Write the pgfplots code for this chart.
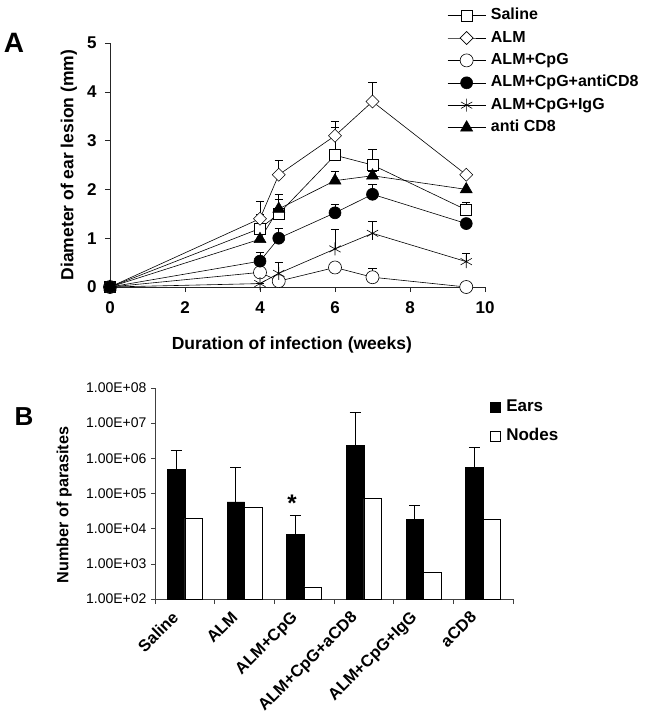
\documentclass[border=0pt]{standalone}
\usepackage{fontspec}
\setmainfont{Liberation Sans}
\usepackage{pgfplots}
\pgfplotsset{compat=1.18}
\usepackage{pgfplotstable}

\pgfplotstableread{
x y e
0 0 0
4 1.2 0.3
4.5 1.5 0.3
6 2.7 0.57
7 2.5 0.32
9.5 1.58 0.15
}\saline
\pgfplotstableread{
x y e
0 0 0
4 1.4 0.35
4.5 2.3 0.3
6 3.1 0.3
7 3.8 0.4
9.5 2.3 0
}\alm
\pgfplotstableread{
x y e
0 0 0
4 0.3 0.1
4.5 0.12 0
6 0.4 0
7 0.2 0.18
9.5 0.0 0
}\almcpg
\pgfplotstableread{
x y e
0 0 0
4 0.53 0.18
4.5 1.0 0.2
6 1.52 0.17
7 1.9 0.2
9.5 1.3 0
}\almcpgcd
\pgfplotstableread{
x y e
0 0 0
4 0.07 0
4.5 0.28 0.22
6 0.78 0.4
7 1.1 0.25
9.5 0.52 0.18
}\almcpgigg
\pgfplotstableread{
x y e
0 0 0
4 0.98 0.2
4.5 1.6 0.3
6 2.18 0.2
7 2.28 0.1
9.5 2.0 0
}\anticd
\pgfplotstableread{
x ears err nodes
0.5 4.9e5 1.21e6 2.0e4
1.5 5.8e4 5.0e5 4.2e4
2.5 7.0e3 1.65e4 2.2e2
3.5 2.35e6 1.8e7 7.2e4
4.5 1.8e4 2.7e4 5.8e2
5.5 5.6e5 1.44e6 1.8e4
}\parasites

\pgfplotsset{
  serA/.style={black, line width=0.6pt, mark options={solid, line width=0.6pt},
    error bars/y dir=plus, error bars/y explicit,
    error bars/error mark=-,
    error bars/error bar style={line width=0.6pt, black},
    error bars/error mark options={rotate=90, mark size=4.2pt, line width=0.6pt, black}},
}

\begin{document}
\begin{tikzpicture}
\path[use as bounding box] (0pt,0pt) rectangle (645pt,-720pt);
\node[font=\fontsize{28}{30}\selectfont\bfseries] at (14pt,-43pt) {A};
\node[font=\fontsize{26}{30}\selectfont\bfseries] at (24pt,-417pt) {B};

\begin{axis}[
  at={(110pt,-287pt)}, anchor=south west,
  scale only axis, width=375pt, height=244pt,
  xmin=0, xmax=10, ymin=0, ymax=5,
  axis lines*=left,
  axis line style={black!85, line width=0.6pt},
  tick align=outside, major tick length=5pt,
  tick style={black!85, line width=0.6pt},
  xtick={0,2,...,10}, ytick={0,1,...,5},
  /pgf/number format/assume math mode=true,
  ticklabel style={font=\fontsize{17}{20}\selectfont\bfseries},
  xticklabel style={yshift=-6pt},
  yticklabel style={xshift=-5pt},
  xlabel={Duration of infection (weeks)},
  ylabel={Diameter of ear lesion (mm)},
  label style={font=\fontsize{17.5}{20}\selectfont\bfseries},
  xlabel style={at={(axis description cs:0.485,-0.238)}, anchor=center},
  ylabel style={at={(axis description cs:-0.11,0.5)}, anchor=center},
  clip=false,
  legend cell align=left,
  legend style={at={(axis description cs:0.899,1.15)}, anchor=north west,
    draw=none, fill=none, inner sep=0pt, row sep=4.4pt,
    font=\fontsize{16}{19}\selectfont\bfseries,
    nodes={text height=11.5pt, text depth=3.5pt, inner sep=1.5pt},
    /tikz/every odd column/.append style={column sep=3.5pt}},
  legend image code/.code={\draw[mark repeat=2, mark phase=2, #1] plot coordinates {(0pt,0pt) (19pt,0pt) (38pt,0pt)};},
]
\addplot[serA, mark=square*, mark size=5.5pt, mark options={fill=white}] table[x=x, y=y, y error=e] {\saline};
\addlegendentry{Saline}
\addplot[serA, mark=square*, mark size=4.6pt, mark options={fill=white, rotate=45}] table[x=x, y=y, y error=e] {\alm};
\addlegendentry{ALM}
\addplot[serA, mark=*, mark size=6.5pt, mark options={fill=white}] table[x=x, y=y, y error=e] {\almcpg};
\addlegendentry{ALM+CpG}
\addplot[serA, mark=*, mark size=6pt, mark options={fill=black}] table[x=x, y=y, y error=e] {\almcpgcd};
\addlegendentry{ALM+CpG+antiCD8}
\addplot[serA, mark=asterisk, mark size=6.5pt] table[x=x, y=y, y error=e] {\almcpgigg};
\addlegendentry{ALM+CpG+IgG}
\addplot[serA, mark=triangle*, mark size=6.9pt, mark options={fill=black}] table[x=x, y=y, y error=e] {\anticd};
\addlegendentry{anti CD8}
\end{axis}

\begin{axis}[
  at={(155pt,-599pt)}, anchor=south west,
  scale only axis, width=358pt, height=211pt,
  xmin=0, xmax=6, ymode=log, ymin=100, ymax=1e8, log origin=infty,
  ybar=0pt, bar width=17.5pt,
  axis lines*=left,
  axis line style={black!75, line width=0.6pt},
  tick align=outside,
  tick style={black!75, line width=0.6pt},
  xtick={0.5,1.5,...,5.5},
  xticklabels={Saline,ALM,ALM+CpG,ALM+CpG+aCD8,ALM+CpG+IgG,aCD8},
  major x tick style={draw=none},
  minor xtick={0,1,...,6}, minor tick length=5pt,
  ytick={1e2,1e3,1e4,1e5,1e6,1e7,1e8},
  yticklabels={1.00E+02,1.00E+03,1.00E+04,1.00E+05,1.00E+06,1.00E+07,1.00E+08},
  major tick length=4pt,
  yminorticks=false,
  /pgf/number format/assume math mode=true,
  yticklabel style={font=\fontsize{14}{16}\selectfont, xshift=-1pt},
  xticklabel style={font=\fontsize{16.5}{18}\selectfont\bfseries, xshift=-14pt, yshift=-7pt, rotate=45, anchor=north east, inner sep=0pt},
  ylabel={Number of parasites},
  ylabel style={font=\fontsize{16.2}{19}\selectfont\bfseries, at={(axis description cs:-0.254,0.446)}, anchor=center},
  clip=false,
  legend cell align=left,
  legend style={at={(axis description cs:0.936,0.955)}, anchor=north west,
    draw=none, fill=none, inner sep=0pt, row sep=11pt,
    font=\fontsize{17}{20}\selectfont\bfseries,
    nodes={text height=12pt, text depth=3.5pt, inner sep=1.5pt},
    /tikz/every odd column/.append style={column sep=4pt}},
  legend image code/.code={\draw[#1, line width=0.5pt, draw=black] (0pt,-5pt) rectangle (10pt,5pt);},
]
\addplot[fill=black, draw=black, line width=0.5pt,
  error bars/y dir=plus, error bars/y explicit,
  error bars/error mark=-,
  error bars/error bar style={line width=0.6pt, black},
  error bars/error mark options={rotate=90, mark size=5.5pt, line width=0.6pt, black}]
  table[x=x, y=ears, y error=err] {\parasites};
\addlegendentry{Ears}
\addplot[fill=white, draw=black, line width=0.5pt] table[x=x, y=nodes] {\parasites};
\addlegendentry{Nodes}
\node[anchor=north, inner sep=0pt, font=\fontsize{24}{26}\selectfont\bfseries, xshift=-12pt] at (axis cs:2.5,9.4e4) {*};
\end{axis}
\end{tikzpicture}
\end{document}
